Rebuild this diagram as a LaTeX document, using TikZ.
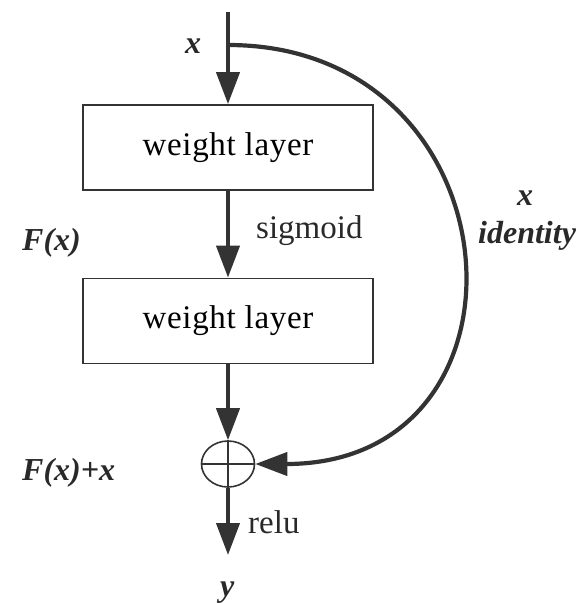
\documentclass[tikz,border=0pt]{standalone}
\usepackage{fontspec}
\setmainfont{Liberation Serif}
\usepackage{tikz}
\usetikzlibrary{arrows.meta,shapes.geometric}
\definecolor{linegray}{HTML}{333333}

\tikzset{
    layer/.style={draw=linegray, line width=1.8pt, minimum width=290pt, minimum height=85pt,
        inner sep=0pt, font=\fontsize{33}{38}\selectfont\addfontfeature{LetterSpace=2}},
    flow/.style={draw=linegray, line width=4.2pt,
        -{Triangle[length=32pt,width=23pt]}},
    lbl/.style={inner sep=0pt, anchor=base west, text=linegray!80!black,
        font=\bfseries\itshape\fontsize{32}{36}\selectfont},
    act/.style={inner sep=0pt, anchor=base west, text=linegray!80!black,
        font=\fontsize{33}{38}\selectfont}
}

\begin{document}
\begin{tikzpicture}[x=1pt, y=-1pt]
        \useasboundingbox (0,0) rectangle (578,603);
        \coordinate (in) at (228,12);
        \coordinate (fork) at (228,45);
        \node[layer] (l1) at (228,147.5) {weight layer};
        \node[layer] (l2) at (228,321) {weight layer};
        \node[draw=linegray, line width=1.6pt, ellipse, inner sep=0pt,
            minimum width=53pt, minimum height=46pt] (sum) at (228,464) {};
        \coordinate (out) at (228,555);

        \draw[flow] (in) -- (l1);
        \draw[flow] (l1) -- (l2);
        \draw[flow] (l2) -- (sum);
        \draw[flow] (sum) -- (out);
        \draw[flow] (fork) .. controls +(293,0) and +(293,0) .. (sum.east);
        \draw[linegray, line width=1.6pt] (sum.north) -- (sum.south) (sum.west) -- (sum.east);

        \node[lbl] (xin) at (185,53) {x};
        \node[lbl] (fx) at (22,250) {F(x)};
        \node[lbl] (fxx) at (22,480) {F(x)+x};
        \node[lbl] (xid) at (517,205) {x};
        \node[lbl] (ident) at (478,243) {identity};
        \node[lbl] (yout) at (220,596) {y};
        \node[act] (sig) at (256,238) {sigmoid};
        \node[act] (relu) at (248,533) {relu};
\end{tikzpicture}
\end{document}
